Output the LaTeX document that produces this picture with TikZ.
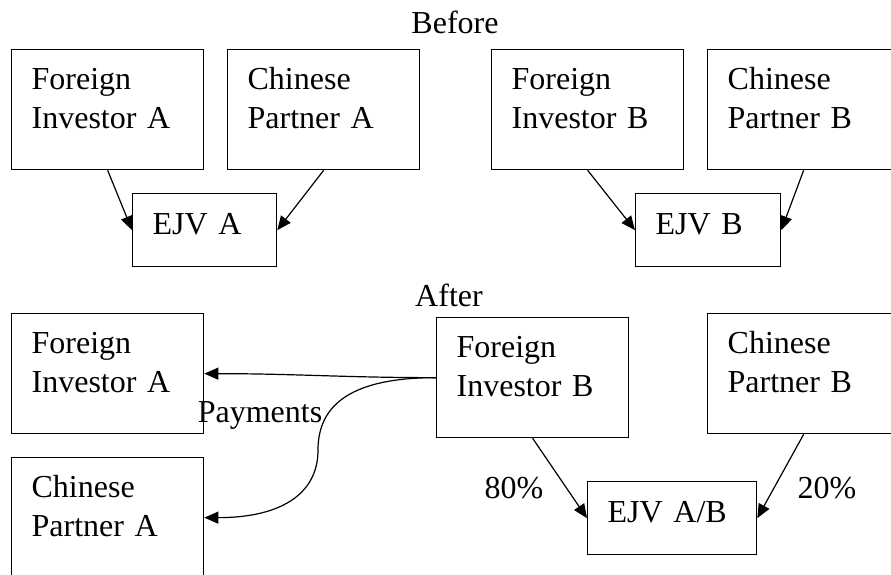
\documentclass[tikz,border=0pt]{standalone}
\usepackage{fontspec}
\setmainfont{Liberation Serif}
\usetikzlibrary{arrows.meta}
\begin{document}
\begin{tikzpicture}[x=1pt, y=-1pt,
				cell/.style={rectangle, draw, line width=1.3pt, anchor=north west, align=left, inner xsep=20pt, inner ysep=0pt, text height=21pt, font=\fontsize{32}{39}\selectfont},
				party/.style={cell, text width=152pt, minimum height=120pt, text depth=61pt},
				ejv/.style={cell, minimum height=73pt, text depth=12pt},
				link/.style={-{Triangle[length=14pt, width=12pt]}, line width=1.2pt},
				tag/.style={inner sep=0pt, font=\fontsize{32}{39}\selectfont}
				]
				\clip (0,0) rectangle (891,575);
				% before
				\node[tag] (before) at (455,22) {Before};
				\node[party] (fia) at (11,49) {Foreign\\Investor A};
				\node[party] (cpa) at (227,49) {Chinese\\Partner A};
				\node[party] (fib) at (491,49) {Foreign\\Investor B};
				\node[party] (cpb) at (707,49) {Chinese\\Partner B};
				\node[ejv, text width=104pt] (ejva) at (132,193) {EJV A};
				\node[ejv, text width=105pt] (ejvb) at (635,193) {EJV B};
				\draw[link] (fia.south) -- (ejva.west);
				\draw[link] (cpa.south) -- (ejva.east);
				\draw[link] (fib.south) -- (ejvb.west);
				\draw[link] (cpb.south) -- (ejvb.east);
				% after
				\node[tag] (after) at (449,295) {After};
				\node[party] (fiaafter) at (11,313) {Foreign\\Investor A};
				\node[party] (cpaafter) at (11,457) {Chinese\\Partner A};
				\node[party] (fibafter) at (436,317) {Foreign\\Investor B};
				\node[party] (cpbafter) at (707,313) {Chinese\\Partner B};
				\node[ejv, text width=129pt] (ejvab) at (587,481) {EJV A/B};
				\coordinate (bend) at (318,450);
				\draw[link] (fibafter.west) to[out=180, in=0] (fiaafter.east);
				\draw[link] (fibafter.west) .. controls +(-85,0) and +(0,-45) .. (bend) .. controls +(0,45) and +(75,0) .. (cpaafter.east);
				\node[tag] (payments) at (260,415) {Payments};
				\draw[link] (fibafter.south) -- (ejvab.west);
				\draw[link] (cpbafter.south) -- (ejvab.east);
				\node[tag] (share80) at (514,488) {80\%};
				\node[tag] (share20) at (827,488) {20\%};
			\end{tikzpicture}
\end{document}
